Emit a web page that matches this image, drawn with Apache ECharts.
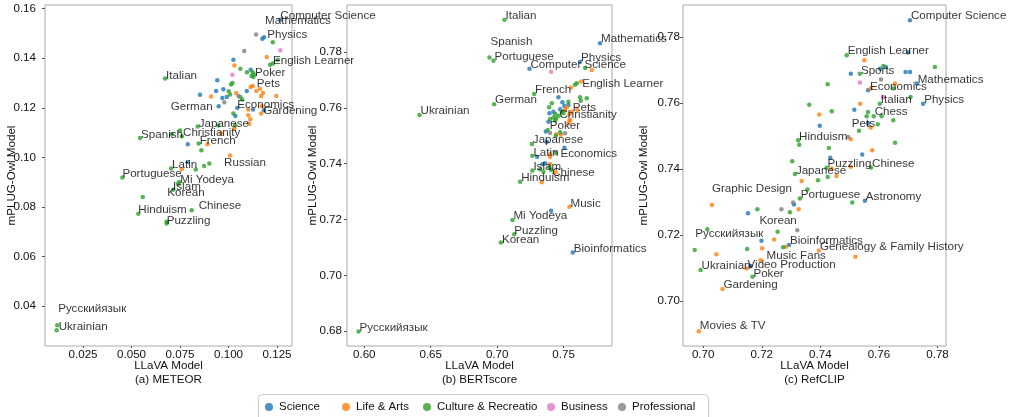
<!DOCTYPE html>
<html>
<head>
<meta charset="utf-8">
<script src="https://cdn.jsdelivr.net/npm/echarts@6/dist/echarts.min.js"></script>
<style>
html,body{margin:0;padding:0;background:#fff;}
#chart{width:1016px;height:417px;}
</style>
</head>
<body>
<div id="chart"></div>
<script>
// ---------------- DATA ----------------
const categories = ['Science', 'Life & Arts', 'Culture & Recreatio', 'Business', 'Professional'];

// [label, categoryIndex, LLaVA value, mPLUG-Owl value]
const meteorPoints = [
  ['Computer Science',0,0.1267,0.1555],['Mathematics',0,0.1183,0.1485],['Physics',0,0.1174,0.1479],
  ['',4,0.1142,0.1496],['',2,0.1228,0.1465],['',4,0.1081,0.1429],['',3,0.1267,0.1432],
  ['',1,0.1197,0.1405],['',0,0.1025,0.1394],['',2,0.1214,0.1374],['English Learner',2,0.1229,0.1379],
  ['',2,0.1254,0.1394],['',1,0.1030,0.1371],['',2,0.1061,0.1358],['',0,0.1114,0.1354],
  ['',2,0.1095,0.1344],['',2,0.1125,0.1344],['Poker',2,0.1131,0.1334],['',3,0.1020,0.1334],
  ['',2,0.1118,0.1328],['',2,0.1128,0.1324],['',0,0.0942,0.1311],['',2,0.1020,0.1300],
  ['',2,0.1013,0.1294],['',1,0.1114,0.1284],['Pets',1,0.1125,0.1288],['',1,0.1162,0.1277],
  ['',1,0.1178,0.1260],['',1,0.1143,0.1268],['',0,0.1094,0.1268],['',0,0.0973,0.1275],
  ['',0,0.0936,0.1268],['',1,0.1039,0.1260],['',2,0.1001,0.1267],['',0,0.0853,0.1253],
  ['',1,0.0910,0.1246],['',0,0.0968,0.1240],['',0,0.0991,0.1244],['',2,0.1008,0.1254],
  ['',4,0.1051,0.1248],['',2,0.1061,0.1244],['',2,0.1070,0.1234],['',1,0.1168,0.1248],
  ['',1,0.1246,0.1248],['',4,0.0978,0.1223],['German',0,0.0949,0.1206],['',1,0.1102,0.1193],
  ['',1,0.1171,0.1206],['',0,0.1126,0.1193],['',0,0.1183,0.1190],['Economics',0,0.1045,0.1199],
  ['',2,0.1025,0.1177],['',0,0.1035,0.1167],['',1,0.1102,0.1170],['',1,0.1112,0.1154],
  ['',1,0.1106,0.1136],['Gardening',1,0.1168,0.1177],['',2,0.1034,0.1129],['',2,0.0947,0.1129],
  ['Japanese',2,0.0841,0.1125],['',1,0.1030,0.1116],['',1,0.0960,0.1096],['Christianity',2,0.0750,0.1109],
  ['',2,0.0759,0.1085],['',2,0.0707,0.1093],['Spanish',2,0.0544,0.1078],['',0,0.0790,0.1053],
  ['French',2,0.0846,0.1056],['',1,0.0891,0.1053],['',2,0.0860,0.1029],['Russian',1,0.1008,0.1008],
  ['',2,0.0874,0.0965],['',2,0.0901,0.0975],['Latin',2,0.0704,0.0955],['',0,0.0790,0.0981],
  ['',1,0.0759,0.0952],['',2,0.0831,0.0951],['Portuguese',2,0.0453,0.0919],['Mi Yodeya',2,0.0746,0.0901],
  ['Islam',2,0.0740,0.0894],['Korean',2,0.0715,0.0870],['',2,0.0558,0.0840],['Hinduism',2,0.0535,0.0773],
  ['Chinese',2,0.0810,0.0787],['Puzzling',2,0.0681,0.0733],['',2,0.0681,0.0740],
  ['Русскийязык',2,0.0117,0.0323],['Ukrainian',2,0.0114,0.0303],['Italian',2,0.0673,0.1318]
];

const bertPoints = [
  ['Italian',2,0.7055,0.7915],['Spanish',2,0.6942,0.7780],['Portuguese',2,0.6972,0.7768],
  ['Mathematics',0,0.7774,0.7831],['Physics',0,0.7624,0.7765],['Computer Science',0,0.7243,0.7740],
  ['',3,0.7406,0.7729],['',2,0.7662,0.7742],['',1,0.7712,0.7735],['English Learner',1,0.7632,0.7694],
  ['',2,0.7586,0.7682],['',2,0.7599,0.7688],['',1,0.7556,0.7673],['French',2,0.7278,0.7649],
  ['',0,0.7461,0.7638],['',2,0.7624,0.7638],['',2,0.7674,0.7634],['',2,0.7536,0.7622],
  ['',2,0.7629,0.7625],['',0,0.7491,0.7620],['',0,0.7536,0.7610],['',2,0.7411,0.7616],
  ['German',2,0.6977,0.7613],['Ukrainian',2,0.6416,0.7574],['',0,0.7506,0.7606],['',2,0.7391,0.7602],
  ['',1,0.7524,0.7602],['Pets',1,0.7562,0.7586],['',0,0.7474,0.7595],['',2,0.7486,0.7586],
  ['',0,0.7423,0.7586],['',1,0.7511,0.7592],['Christianity',2,0.7461,0.7571],['',2,0.7498,0.7580],
  ['',1,0.7544,0.7577],['',1,0.7604,0.7592],['',2,0.7436,0.7578],['',0,0.7393,0.7580],
  ['',2,0.7444,0.7562],['',2,0.7436,0.7554],['',2,0.7398,0.7560],['',2,0.7423,0.7565],
  ['',1,0.7544,0.7554],['',1,0.7536,0.7544],['',1,0.7549,0.7556],['',0,0.7386,0.7550],
  ['Poker',2,0.7381,0.7520],['',0,0.7366,0.7515],['',2,0.7441,0.7500],['',1,0.7444,0.7505],
  ['',1,0.7479,0.7503],['',4,0.7511,0.7509],['',4,0.7398,0.7510],['',2,0.7474,0.7512],
  ['Japanese',2,0.7261,0.7470],['',0,0.7374,0.7478],['Economics',0,0.7506,0.7457],
  ['Latin',2,0.7265,0.7428],['',0,0.7301,0.7425],['',1,0.7398,0.7434],['',1,0.7398,0.7425],
  ['',2,0.7441,0.7439],['Islam',2,0.7265,0.7375],['',0,0.7361,0.7401],['',0,0.7341,0.7398],
  ['',1,0.7398,0.7399],['',2,0.7323,0.7380],['',2,0.7348,0.7371],['Chinese',2,0.7406,0.7377],
  ['',1,0.7441,0.7369],['',2,0.7393,0.7387],['Hinduism',2,0.7173,0.7335],['',1,0.7336,0.7333],
  ['Music',1,0.7544,0.7246],['',0,0.7406,0.7231],['Mi Yodeya',2,0.7115,0.7198],
  ['Puzzling',2,0.7128,0.7147],['Korean',2,0.7028,0.7118],['Bioinformatics',0,0.7569,0.7082],
  ['Русскийязык',2,0.5957,0.6799]
];

const refclipPoints = [
  ['Computer Science',0,0.7706,0.7851],['',0,0.7700,0.7753],['English Learner',2,0.7490,0.7745],
  ['',1,0.7550,0.7730],['',2,0.7615,0.7712],['',0,0.7623,0.7709],['',2,0.7791,0.7709],
  ['',0,0.7604,0.7704],['',0,0.7504,0.7689],['Sports',2,0.7535,0.7689],['',0,0.7691,0.7694],
  ['',0,0.7706,0.7694],['',4,0.7607,0.7671],['',3,0.7535,0.7662],['',1,0.7655,0.7659],
  ['Mathematics',0,0.7729,0.7659],['',2,0.7425,0.7657],['Economics',0,0.7563,0.7639],
  ['',1,0.7572,0.7644],['',2,0.7649,0.7644],['',3,0.7615,0.7618],['',2,0.7708,0.7618],
  ['Italian',2,0.7603,0.7598],['Physics',0,0.7751,0.7598],['',1,0.7536,0.7598],['',2,0.7362,0.7595],
  ['',0,0.7516,0.7580],['',2,0.7439,0.7575],['',2,0.7563,0.7573],['Chess',2,0.7582,0.7560],
  ['',2,0.7558,0.7560],['',2,0.7609,0.7560],['',1,0.7396,0.7565],['',2,0.7649,0.7548],
  ['',0,0.7398,0.7531],['Pets',1,0.7572,0.7526],['',0,0.7563,0.7538],['',2,0.7596,0.7536],
  ['',2,0.7532,0.7516],['',4,0.7495,0.7497],['',1,0.7504,0.7490],['Hinduism',2,0.7324,0.7487],
  ['',2,0.7328,0.7474],['',2,0.7655,0.7480],['',2,0.7429,0.7464],['',1,0.7577,0.7457],
  ['',0,0.7543,0.7444],['',0,0.7434,0.7434],['',2,0.7304,0.7424],['Puzzling',2,0.7421,0.7404],
  ['',1,0.7438,0.7402],['',1,0.7504,0.7407],['Chinese',2,0.7573,0.7405],['Japanese',2,0.7313,0.7385],
  ['',1,0.7455,0.7379],['',2,0.7425,0.7376],['',2,0.7392,0.7366],['',1,0.7336,0.7364],
  ['Graphic Design',1,0.7030,0.7291],['',2,0.7356,0.7338],['Portuguese',2,0.7330,0.7311],
  ['Astronomy',0,0.7552,0.7304],['',2,0.7509,0.7299],['',4,0.7307,0.7299],['',0,0.7310,0.7293],
  ['',0,0.7153,0.7266],['Korean',2,0.7185,0.7278],['',4,0.7267,0.7278],['',2,0.7296,0.7269],
  ['',1,0.7326,0.7278],['',4,0.7321,0.7215],['',2,0.7254,0.7210],['Русскийязык',2,0.7014,0.7218],
  ['',1,0.7242,0.7187],['',0,0.7199,0.7183],['Bioinformatics',0,0.7293,0.7170],['',1,0.7282,0.7165],
  ['',2,0.7273,0.7163],['Genealogy & Family History',1,0.7395,0.7153],['',1,0.7520,0.7134],
  ['',2,0.6971,0.7155],['',2,0.7150,0.7158],['',1,0.7201,0.7160],['',1,0.7045,0.7142],
  ['Music Fans',1,0.7196,0.7124],['Video Production',1,0.7148,0.7099],['',0,0.7162,0.7106],
  ['Ukrainian',2,0.6991,0.7094],['Poker',2,0.7168,0.7074],['Gardening',1,0.7066,0.7037],
  ['Movies & TV',1,0.6985,0.6909]
];

const meteorXTicks = [0.025, 0.050, 0.075, 0.100, 0.125];
const meteorYTicks = [0.04, 0.06, 0.08, 0.10, 0.12, 0.14, 0.16];
const bertXTicks = [0.60, 0.65, 0.70, 0.75];
const bertYTicks = [0.68, 0.70, 0.72, 0.74, 0.76, 0.78];
const refclipXTicks = [0.70, 0.72, 0.74, 0.76, 0.78];
const refclipYTicks = [0.70, 0.72, 0.74, 0.76, 0.78];

const panelTitles = ['(a) METEOR', '(b) BERTscore', '(c) RefCLIP'];

// ---------------- STYLE / LAYOUT ----------------
const colors = ['#1f77b4', '#ff7f0e', '#2ca02c', '#e377c2', '#7f7f7f'];
const FONT = '"Liberation Sans", Arial, Helvetica, sans-serif';
const TXT = '#111';
const FS = 11.6;

// label offsets in px: [dx, dy, align]
const meteorLabelShift = {
  'Computer Science':[0,-4], 'Mathematics':[1,-16], 'Physics':[5,-4], 'English Learner':[0,-3],
  'Poker':[1,-2], 'Pets':[4,-2], 'German':[-6,0,'right'], 'Economics':[0,-3], 'Gardening':[2,-3],
  'Japanese':[1,-3], 'Christianity':[3,2], 'Spanish':[1,-3], 'French':[1,-3], 'Russian':[-6,7],
  'Latin':[1,-4], 'Portuguese':[0,-4], 'Mi Yodeya':[1,-2], 'Islam':[-5,3], 'Korean':[-6,3],
  'Hinduism':[0,-4], 'Chinese':[7,-4], 'Puzzling':[0,-3], 'Русскийязык':[1,-16],
  'Ukrainian':[2,-3], 'Italian':[1,-3]
};
const bertLabelShift = {
  'Spanish':[1,-16], 'English Learner':[1,2], 'Christianity':[1,-1], 'Poker':[2,-4],
  'Economics':[-4,6], 'Chinese':[1,3], 'Latin':[1,-3], 'Music':[1,-3], 'Puzzling':[0,-3], 'Korean':[1,-3]
};
const refclipLabelShift = {
  'Sports':[1,-3], 'Economics':[2,-3], 'Pets':[-19,-4], 'Japanese':[1,-3], 'Graphic Design':[0,-16],
  'Korean':[2,11], 'Русскийязык':[-12,5], 'Music Fans':[6,-4], 'Poker':[1,-3], 'Movies & TV':[1,-5]
};

const panels = [
  { points: meteorPoints, shift: meteorLabelShift, xTicks: meteorXTicks, yTicks: meteorYTicks,
    xDec: 3, yDec: 2, grid: {left: 45, top: 5, width: 247, height: 341},
    xRange: [0.0054, 0.1327], yRange: [0.0239, 0.1615], yMargin: 9, yNameGap: 27 },
  { points: bertPoints, shift: bertLabelShift, xTicks: bertXTicks, yTicks: bertYTicks,
    xDec: 2, yDec: 2, grid: {left: 347, top: 5, width: 265, height: 341},
    xRange: [0.587, 0.7864], yRange: [0.6747, 0.7968], yMargin: 5, yNameGap: 28 },
  { points: refclipPoints, shift: refclipLabelShift, xTicks: refclipXTicks, yTicks: refclipYTicks,
    xDec: 2, yDec: 2, grid: {left: 683, top: 5, width: 263, height: 341},
    xRange: [0.6931, 0.7829], yRange: [0.6864, 0.7897], yMargin: 3, yNameGap: 33 }
];

const legendLeft = [265, 342, 423, 547, 618];

// ---------------- BUILD ----------------
const grids = [], xAxes = [], yAxes = [], series = [];
panels.forEach((p, i) => {
  grids.push(Object.assign({show: true, borderColor: '#aaa', borderWidth: 1, containLabel: false}, p.grid));
  xAxes.push({
    type: 'value', gridIndex: i, min: p.xRange[0], max: p.xRange[1],
    axisLine: {show: false}, splitLine: {show: false},
    axisTick: {show: true, customValues: p.xTicks, length: 2, lineStyle: {color: '#555'}},
    axisLabel: {customValues: p.xTicks, formatter: v => Number(v).toFixed(p.xDec), margin: 3,
      fontSize: FS, color: TXT, fontFamily: FONT},
    name: 'LLaVA Model\n' + panelTitles[i], nameLocation: 'middle', nameGap: 12.5, nameMoveOverlap: false,
    nameTextStyle: {fontSize: FS, color: TXT, fontFamily: FONT, lineHeight: 14}
  });
  yAxes.push({
    type: 'value', gridIndex: i, min: p.yRange[0], max: p.yRange[1],
    axisLine: {show: false}, splitLine: {show: false},
    axisTick: {show: true, customValues: p.yTicks, length: 3, lineStyle: {color: '#555'}},
    axisLabel: {customValues: p.yTicks, formatter: v => Number(v).toFixed(p.yDec), margin: p.yMargin,
      fontSize: FS, color: TXT, fontFamily: FONT},
    name: 'mPLUG-Owl Model', nameLocation: 'middle', nameGap: p.yNameGap, nameMoveOverlap: false,
    nameTextStyle: {fontSize: FS, color: TXT, fontFamily: FONT}
  });
  categories.forEach((cat, c) => {
    series.push({
      type: 'scatter', name: cat, xAxisIndex: i, yAxisIndex: i, symbolSize: 4.5,
      itemStyle: {color: colors[c]}, silent: true, z: 2,
      data: p.points.filter(d => d[1] === c).map(d => [d[2], d[3]])
    });
  });
  series.push({
    type: 'scatter', xAxisIndex: i, yAxisIndex: i, symbolSize: 2, silent: true, z: 10,
    itemStyle: {color: 'rgba(0,0,0,0)'},
    label: {show: true, formatter: '{b}', fontSize: FS, color: '#000', fontFamily: FONT},
    data: p.points.filter(d => d[0]).map(d => {
      const s = p.shift[d[0]] || [1, -4];
      return {
        name: d[0], value: [d[2], d[3]],
        label: {position: [s[0] + 1, s[1] + 1], align: s[2] || 'left', verticalAlign: 'middle'}
      };
    })
  });
});

const legends = categories.map((c, k) => ({
  data: [c], left: legendLeft[k], top: 401, icon: 'circle', itemWidth: 10, itemHeight: 8,
  itemGap: 0, padding: 0, selectedMode: false,
  textStyle: {fontSize: 11.5, color: TXT, fontFamily: FONT}
}));

const chart = echarts.init(document.getElementById('chart'), null, {renderer: 'canvas'});
chart.setOption({
  backgroundColor: '#fff',
  animation: false,
  grid: grids, xAxis: xAxes, yAxis: yAxes, series: series,
  legend: legends,
  graphic: [{
    type: 'rect', z: -1, silent: true,
    shape: {x: 258.5, y: 394.5, width: 450, height: 30, r: 4},
    style: {fill: '#fff', stroke: '#ccc', lineWidth: 1}
  }]
});
</script>
</body>
</html>
